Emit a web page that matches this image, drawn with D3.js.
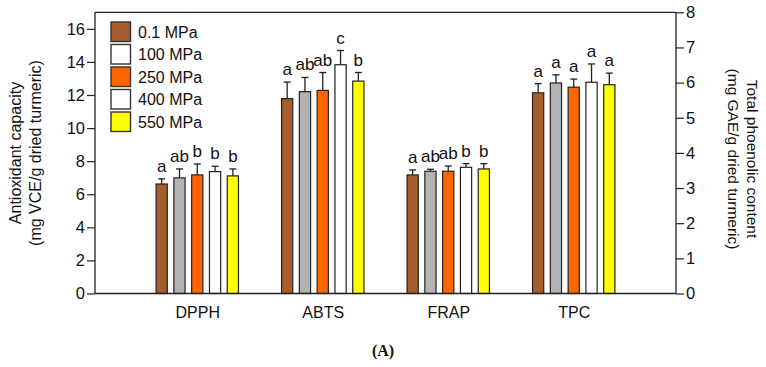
<!DOCTYPE html>
<html><head><meta charset="utf-8">
<script src="https://cdn.jsdelivr.net/npm/d3@7"></script>
<style>body{margin:0;background:#fff}svg{display:block}</style>
</head><body><svg id="c" width="766" height="367"></svg>
<script>
const categories = ["DPPH", "ABTS", "FRAP", "TPC"];
const series = ["0.1 MPa", "100 MPa", "250 MPa", "400 MPa", "550 MPa"];
const barColors = ["#a65d2c", "#b3b3b3", "#ff6600", "#ffffff", "#ffff00"];
const legendColors = ["#a65d2c", "#ffffff", "#ff6600", "#ffffff", "#ffff00"];
// values per category (series order); TPC is on the right axis
const dpph = [6.62, 6.99, 7.17, 7.37, 7.11];
const abts = [11.78, 12.20, 12.28, 13.83, 12.84];
const frap = [7.17, 7.39, 7.39, 7.63, 7.53];
const tpc = [5.71, 5.99, 5.87, 6.01, 5.94];
const dpphErr = [0.31, 0.54, 0.66, 0.32, 0.42];
const abtsErr = [1.00, 0.86, 1.08, 0.86, 0.52];
const frapErr = [0.30, 0.12, 0.32, 0.22, 0.32];
const tpcErr = [0.26, 0.23, 0.23, 0.52, 0.33];
const dpphLetters = ["a", "ab", "b", "b", "b"];
const abtsLetters = ["a", "ab", "ab", "c", "b"];
const frapLetters = ["a", "ab", "ab", "b", "b"];
const tpcLetters = ["a", "a", "a", "a", "a"];
const leftTicks = [0, 2, 4, 6, 8, 10, 12, 14, 16];
const rightTicks = [0, 1, 2, 3, 4, 5, 6, 7, 8];

const groups = [
  {cat: "DPPH", vals: dpph, err: dpphErr, let: dpphLetters, axis: "left"},
  {cat: "ABTS", vals: abts, err: abtsErr, let: abtsLetters, axis: "left"},
  {cat: "FRAP", vals: frap, err: frapErr, let: frapLetters, axis: "left"},
  {cat: "TPC", vals: tpc, err: tpcErr, let: tpcLetters, axis: "right"}
];

const svg = d3.select("#c");
const L = 95, R = 676, T = 12.3, B = 293.5;
const font = "'Liberation Sans', Arial, sans-serif";
const ink = "#222";

const yL = d3.scaleLinear().domain([0, 17]).range([B, T]);
const yR = d3.scaleLinear().domain([0, 8]).range([B, T]);
const x = d3.scalePoint().domain(categories).range([L, R]).padding(0.815);
const xs = d3.scaleBand().domain(series).range([-41.2, 41.2]).paddingInner(0.37).paddingOuter(0);

// frame top
svg.append("line").attr("x1", L).attr("x2", R).attr("y1", T).attr("y2", T)
  .attr("stroke", ink).attr("stroke-width", 1.3);

// bars
groups.forEach(g => {
  const y = g.axis === "left" ? yL : yR;
  const gg = svg.append("g").attr("transform", `translate(${x(g.cat)},0)`);
  series.forEach((s, i) => {
    const bx = xs(s), bw = xs.bandwidth();
    gg.append("rect").attr("x", bx).attr("y", y(g.vals[i])).attr("width", bw)
      .attr("height", y(0) - y(g.vals[i])).attr("fill", barColors[i])
      .attr("stroke", ink).attr("stroke-width", 1.2);
    const cx = bx + bw / 2, top = y(g.vals[i] + g.err[i]);
    gg.append("line").attr("x1", cx).attr("x2", cx).attr("y1", y(g.vals[i])).attr("y2", top)
      .attr("stroke", ink).attr("stroke-width", 1.3);
    gg.append("line").attr("x1", cx - 3.5).attr("x2", cx + 3.5).attr("y1", top).attr("y2", top)
      .attr("stroke", ink).attr("stroke-width", 1.3);
    gg.append("text").attr("x", cx).attr("y", top - 7).attr("text-anchor", "middle")
      .attr("font-family", font).attr("font-size", 17).attr("fill", "#111").text(g.let[i]);
  });
});

// axes
const axL = d3.axisLeft(yL).tickValues(leftTicks).tickSize(8).tickPadding(2);
const axR = d3.axisRight(yR).tickValues(rightTicks).tickSize(8).tickPadding(2);
const gl = svg.append("g").attr("transform", `translate(${L},0)`).call(axL);
const gr = svg.append("g").attr("transform", `translate(${R},0)`).call(axR);
[gl, gr].forEach(a => {
  a.select(".domain").attr("stroke", ink).attr("stroke-width", 1.3);
  a.selectAll(".tick line").attr("stroke", ink).attr("stroke-width", 1.2);
  a.selectAll(".tick text").attr("font-family", font).attr("font-size", 16.5).attr("fill", "#111");
});
gl.select(".domain").attr("d", `M0,${T}V${B}`);
gr.select(".domain").attr("d", `M0,${T}V${B}`);
// bottom axis
const axB = d3.axisBottom(x).tickSize(0).tickPadding(13);
const gb = svg.append("g").attr("transform", `translate(0,${B})`).call(axB);
gb.select(".domain").attr("d", `M${L},0H${R}`).attr("stroke", ink).attr("stroke-width", 1.3);
gb.selectAll(".tick text").attr("font-family", font).attr("font-size", 16).attr("fill", "#111");

// axis titles
const lt = svg.append("text").attr("transform", "translate(21,153) rotate(-90)")
  .attr("text-anchor", "middle").attr("font-family", font).attr("font-size", 16).attr("fill", "#111");
lt.append("tspan").attr("x", 0).attr("dy", 0).text("Antioxidant capacity");
lt.append("tspan").attr("x", 0).attr("dy", 19.5).text("(mg VCE/g dried turmeric)");
const rt = svg.append("text").attr("transform", "translate(747,159) rotate(90)")
  .attr("text-anchor", "middle").attr("font-family", font).attr("font-size", 15.5).attr("fill", "#111");
rt.append("tspan").attr("x", 0).attr("dy", 0).text("Total phoenolic content");
rt.append("tspan").attr("x", 0).attr("dy", 19.5).text("(mg GAE/g dried turmeric)");

// legend
const lg = svg.append("g").attr("transform", "translate(111,22)");
series.forEach((s, i) => {
  lg.append("rect").attr("x", 0).attr("y", i * 22.5).attr("width", 19.5).attr("height", 19.5)
    .attr("fill", legendColors[i]).attr("stroke", "#333").attr("stroke-width", 1.4);
  lg.append("text").attr("x", 27).attr("y", i * 22.5 + 15.5).attr("font-family", font)
    .attr("font-size", 16).attr("fill", "#111").text(s);
});

// panel label
svg.append("text").attr("x", 383).attr("y", 356).attr("text-anchor", "middle")
  .attr("font-family", "'Liberation Serif', 'Times New Roman', serif").attr("font-weight", "bold")
  .attr("font-size", 16).attr("fill", "#111").text("(A)");
</script></body></html>
